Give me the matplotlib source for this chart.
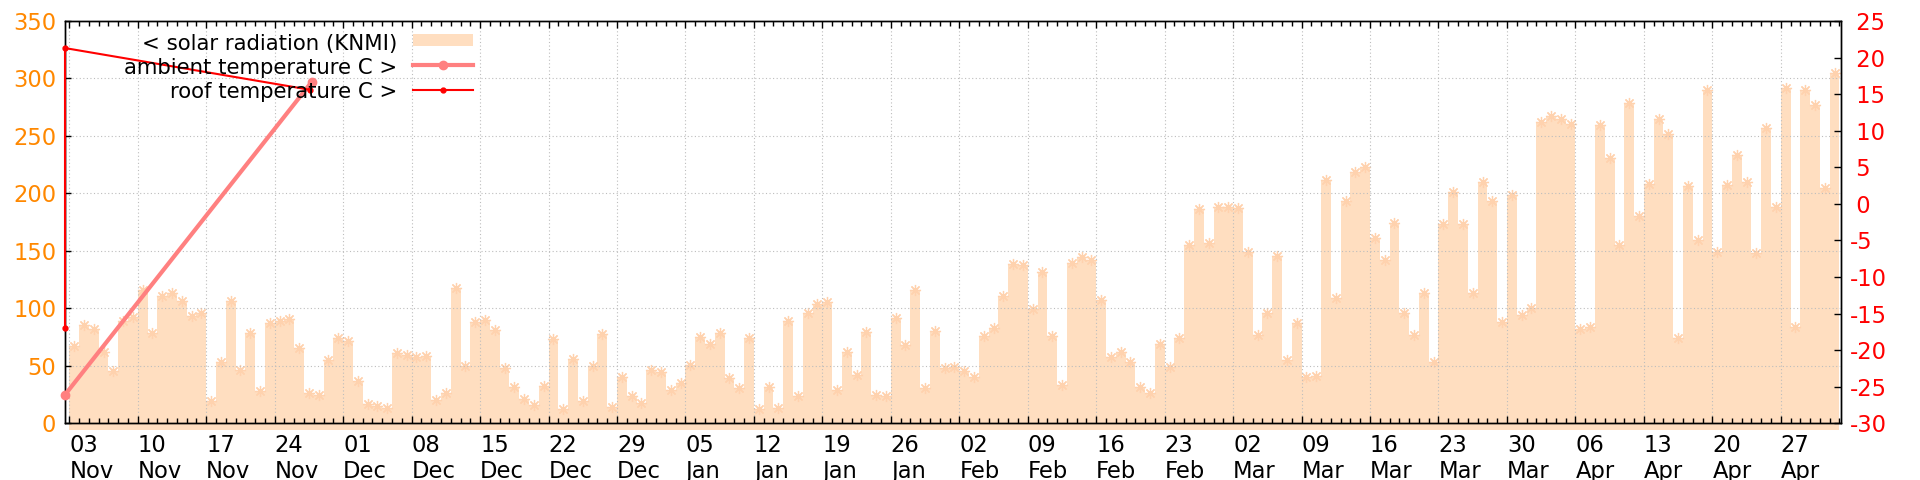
import numpy as np
import pandas as pd
import matplotlib
matplotlib.use("Agg")
import matplotlib.pyplot as plt
from matplotlib.transforms import ScaledTranslation
from matplotlib.lines import Line2D
from matplotlib.patches import Rectangle

plt.rcParams['font.family'] = ['DejaVu Sans']

# ---------------- data ----------------
solar_start = '2022-11-03'
solar = [67.5, 85.6, 82.1, 62.4, 45.8, 89.1, 92.8, 116, 78.3, 110.8,
         113.7, 106.8, 93.7, 96.3, 19.4, 53.7, 106.8, 46.4, 78.3, 28.4,
         87.6, 89, 90.5, 65.3, 26.1, 24.7, 55.1, 74, 71.7, 37,
         16.8, 15.1, 13.6, 61.5, 59.5, 57.4, 58.6, 20.3, 26.1, 117.5,
         49.9, 88.5, 89.9, 81.2, 48.4, 31.9, 20.9, 16, 32.5, 73.1,
         12.8, 56, 19.4, 49.9, 77.7, 14.5, 40, 23.8, 18, 46.7,
         45, 29, 34.8, 50.8, 75.4, 68.8, 78.3, 39.7, 30.5, 74.6,
         12.5, 31.9, 13.1, 89.4, 23.8, 96.3, 103.6, 105.9, 29, 62.4,
         42.1, 79.2, 24.7, 24.1, 92, 68.2, 116, 30.5, 80.6, 48,
         49.3, 45.8, 40, 76.3, 83.3, 110.8, 138.7, 137.8, 99.2, 132,
         76.3, 33.4, 139.8, 145, 142.2, 107.3, 57.4, 61.8, 53.7, 31.3,
         26.7, 69, 49.3, 74.6, 155.2, 186.5, 156.7, 188, 188.6, 187.7,
         149, 77, 95.7, 145.6, 55.1, 87.6, 40, 41, 211.8, 109.4,
         193.8, 218.2, 222.8, 161.6, 142.2, 174.6, 95.7, 76.9, 113.1, 53.7,
         173.2, 201, 173.5, 113.1, 209.7, 193.8, 88.5, 198.7, 94.3, 100.1,
         262.5, 267.5, 264.6, 260.5, 82, 83.6, 259.6, 231.2, 155, 278.5,
         180.7, 208, 264.6, 251.5, 74.6, 206.8, 159.6, 290.1, 149.4, 207.4,
         233.5, 209.5, 148, 256.7, 188.6, 291.6, 83.6, 290.1, 277, 204.5,
         304.6]

ambient_times = ['2022-11-02 13:26', '2022-11-27 19:10']
ambient_temp = [-26.1, 16.7]
roof_times = ['2022-11-02 13:26', '2022-11-02 13:26', '2022-11-27 14:25']
roof_temp = [-17.0, 21.3, 15.6]

x_range = ['2022-11-02 13:26', '2023-05-03 03:00']
major_tick_range = ['2022-11-03', '2023-04-27']
left_ticks = list(range(0, 351, 50))
right_ticks = list(range(-30, 26, 5))

legend_labels = ['< solar radiation (KNMI)', 'ambient temperature C >', 'roof temperature C >']

# ---------------- style ----------------
FILL = '#ffdec0'
MARK = '#ffd2ae'
AMB = '#ff8080'
ROOF = '#ff0000'
ORANGE = '#ff8800'
GRID = '#bdbdbd'
FS = 16.3
LFS = 15.3

W, H = 1920, 480
ax_l, ax_r, ax_t, ax_b = 65, 1840.7, 21, 423.3

fig = plt.figure(figsize=(W / 100, H / 100), dpi=100)
ax = fig.add_axes([ax_l / W, 1 - ax_b / H, (ax_r - ax_l) / W, (ax_b - ax_t) / H])

days = pd.date_range(solar_start, periods=len(solar), freq='D')
edges = pd.date_range(solar_start, periods=len(solar) + 1, freq='D')
vals_step = np.append(solar, solar[-1])

ax.fill_between(edges, -6, vals_step, step='post', color=FILL, lw=0,
                clip_on=False, zorder=1)
ax.plot(days + pd.Timedelta(hours=12), solar, ls='none', marker=(8, 2, 0),
        ms=8, mew=0.9, color=MARK, zorder=1.1)

ax.set_ylim(0, 350)
ax.set_xlim(pd.Timestamp(x_range[0]), pd.Timestamp(x_range[1]))

major_dates = pd.date_range(major_tick_range[0], major_tick_range[1], freq='7D')
minor_dates = pd.date_range(major_tick_range[0], x_range[1], freq='D')
ax.set_xticks(major_dates)
ax.set_xticklabels([d.strftime('%d\n%b') for d in major_dates], ha='left',
                   multialignment='left')
ax.set_xticks(minor_dates, minor=True)
offset = ScaledTranslation(9 / 100, 0, fig.dpi_scale_trans)
for lbl in ax.get_xticklabels():
    lbl.set_transform(lbl.get_transform() + offset)

ax.set_yticks(left_ticks)
ax.set_yticklabels([str(v) for v in left_ticks])

ax.tick_params(axis='x', which='major', direction='in', length=5, width=1,
               top=True, labelsize=FS, pad=7.5, colors='black')
ax.tick_params(axis='x', which='minor', direction='in', length=3.6, width=1,
               top=True)
ax.tick_params(axis='y', direction='in', length=4.5, width=1, left=True,
               right=False, labelsize=FS, labelcolor=ORANGE, pad=6.3)

ax.set_axisbelow(False)
ax.grid(True, which='major', axis='both', ls=(0, (1, 2.2)), color=GRID, lw=0.8)
for s in ax.spines.values():
    s.set_linewidth(1.0)

ax2 = ax.twinx()
ax2.set_ylim(-30, 25)
ax2.plot(pd.to_datetime(ambient_times), ambient_temp, color=AMB, lw=3,
         marker='o', ms=6, clip_on=False, solid_capstyle='round', zorder=3)
ax2.plot(pd.to_datetime(roof_times), roof_temp, color=ROOF, lw=1.5,
         marker='o', ms=3.5, clip_on=False, zorder=4)
ax2.set_yticks(right_ticks)
ax2.set_yticklabels([f"{v: d}".replace('\u2212', '-') for v in right_ticks])
ax2.tick_params(axis='y', direction='in', length=5, width=1,
                labelsize=FS, labelcolor=ROOF, pad=6.3)
for s in ax2.spines.values():
    s.set_linewidth(1.0)
ax2.set_xlim(pd.Timestamp(x_range[0]), pd.Timestamp(x_range[1]))

# ---------------- legend (drawn like gnuplot's key) ----------------
axw, axh = ax_r - ax_l, ax_b - ax_t
fx = lambda px: (px - ax_l) / axw
fy = lambda py: (ax_b - py) / axh
tr = ax2.transAxes
text_x = fx(397)
baselines = [50, 74, 97.5]
for lab, b in zip(legend_labels, baselines):
    ax2.text(text_x, fy(b), lab, transform=tr, ha='right', va='baseline',
             fontsize=LFS, color='black', zorder=6)
hx0, hx1 = fx(413), fx(473)
ax2.add_patch(Rectangle((hx0, fy(46)), hx1 - hx0, fy(34.3) - fy(46),
                        transform=tr, facecolor=FILL, edgecolor='none',
                        clip_on=False, zorder=6))
ax2.add_line(Line2D([hx0, (hx0 + hx1) / 2, hx1], [fy(65)] * 3, transform=tr,
                    color=AMB, lw=3, marker='o', ms=6, markevery=[1],
                    clip_on=False, zorder=6))
ax2.add_line(Line2D([hx0, (hx0 + hx1) / 2, hx1], [fy(90)] * 3, transform=tr,
                    color=ROOF, lw=1.5, marker='o', ms=3.5, markevery=[1],
                    clip_on=False, zorder=6))

fig.savefig('out.png', dpi=100)
